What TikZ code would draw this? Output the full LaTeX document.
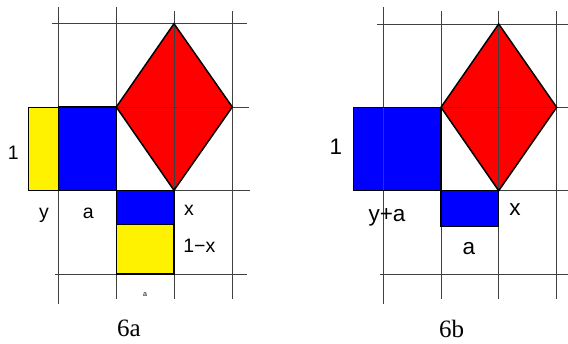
\documentclass[tikz,border=0pt]{standalone}
\usepackage{fontspec}
\setmainfont{Liberation Serif}
\newfontfamily\lsans{Liberation Sans}
\begin{document}
\begin{tikzpicture}[x=1pt,y=-1pt,
  gridline/.style={draw=black!75,line width=0.9pt},
  boldline/.style={draw=black,line width=1.5pt,line join=miter},
  thinline/.style={draw=black,line width=0.9pt},
  lblL/.style={font=\lsans\fontsize{19.5}{22}\selectfont,inner sep=0pt,anchor=base},
  lblR/.style={font=\lsans\fontsize{22.5}{25}\selectfont,inner sep=0pt,anchor=base},
  lbltiny/.style={font=\lsans\fontsize{7}{8}\selectfont,inner sep=0pt,anchor=base},
  capt/.style={font=\fontsize{25}{29}\selectfont,inner sep=0pt,anchor=base}]
\useasboundingbox (0,0) rectangle (568,344);

% ---------- left panel (6a) ----------
\fill[yellow] (28.7,107) rectangle (58.7,190.3);
\fill[blue] (58.7,107) rectangle (116.3,190.3);
\fill[red] (174,23.7) -- (232.3,107) -- (174,190.3) -- (116.3,107) -- cycle;
\fill[blue] (116.3,190.3) rectangle (174,224);
\fill[yellow] (116.3,224) rectangle (174,274);

% grid
\draw[gridline] (58.7,6.7) -- (58.7,304);
\draw[gridline] (116.3,6.7) -- (116.3,299);
\draw[gridline] (174,11) -- (174,299);
\draw[gridline] (232.3,11) -- (232.3,299);
\draw[gridline] (51.7,23.7) -- (246.7,23.7);
\draw[gridline] (28.7,107) -- (249,107);
\draw[gridline] (28.7,190.3) -- (250,190.3);
\draw[gridline] (55,274) -- (246.7,274);

% outlines
\draw[thinline] (58.7,107) -- (28.7,107) -- (28.7,190.3) -- (58.7,190.3);
\draw[boldline] (58.7,107) rectangle (116.3,190.3);
\draw[boldline] (174,23.7) -- (232.3,107) -- (174,190.3) -- (116.3,107) -- cycle;
\draw[thinline] (116.3,224) -- (174,224);
\draw[boldline] (116.3,190.3) rectangle (174,274);

% labels
\node[lblL] (l1) at (13.3,160) {1};
\node[lblL] (ly) at (44,218.5) {y};
\node[lblL] (la) at (88.3,218.5) {a};
\node[lblL] (lx) at (189,216) {x};
\node[lblL] (l1x) at (199.3,253) {1−x};
\node[lbltiny] (lsa) at (145,297) {a};
\node[capt] (cap6a) at (129,337) {6a};

% ---------- right panel (6b) ----------
\fill[blue] (353.3,107.3) rectangle (441,190.7);
\fill[red] (498.7,24) -- (556.7,107.3) -- (498.7,190.7) -- (441,107.3) -- cycle;
\fill[blue] (441,190.7) rectangle (498.7,226.7);

% grid
\draw[gridline] (383,7) -- (383,304);
\draw[gridline] (441,11) -- (441,299);
\draw[gridline] (498.7,11) -- (498.7,299);
\draw[gridline] (556.7,11) -- (556.7,299);
\draw[gridline] (376.7,24) -- (568,24);
\draw[gridline] (376.7,107.3) -- (568,107.3);
\draw[gridline] (376.7,190.7) -- (568,190.7);
\draw[gridline] (380,274) -- (568,274);

% outlines
\draw[boldline] (353.3,107.3) rectangle (441,190.7);
\draw[boldline] (498.7,24) -- (556.7,107.3) -- (498.7,190.7) -- (441,107.3) -- cycle;
\draw[boldline] (441,190.7) rectangle (498.7,226.7);

% labels
\node[lblR] (r1) at (335.8,155) {1};
\node[lblR] (rya) at (387,221.7) {y+a};
\node[lblR] (rx) at (515,215.5) {x};
\node[lblR] (ra) at (469,255) {a};
\node[capt] (cap6b) at (451.7,338) {6b};
\end{tikzpicture}
\end{document}
